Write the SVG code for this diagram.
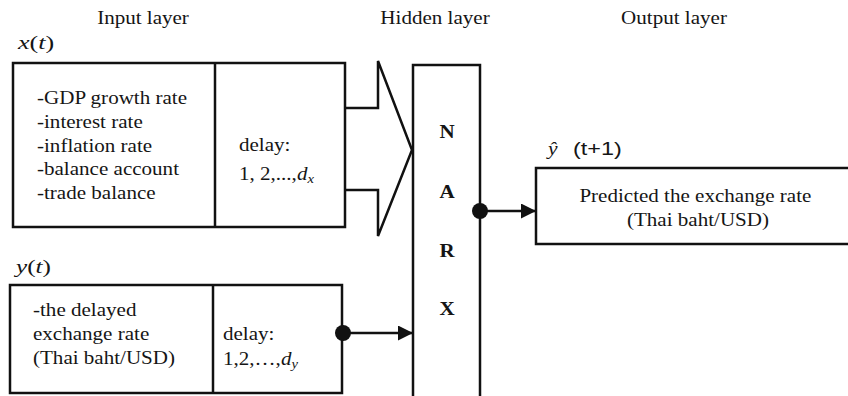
<svg xmlns="http://www.w3.org/2000/svg" width="848" height="396" viewBox="0 0 848 396">
  <style>
    .t { font-family: "Liberation Serif", "Times New Roman", serif; font-size: 18px; fill: #151515; }
    .m { font-family: "Liberation Serif", "Times New Roman", serif; font-size: 18px; fill: #151515; font-style: italic; }
    .up { font-style: normal; }
    .sub { font-size: 12.5px; }
    .b { font-weight: bold; }
    .sans { font-family: "Liberation Sans", Arial, sans-serif; font-size: 18px; fill: #151515; }
    .box { fill: #fff; stroke: #111; stroke-width: 2.5; }
    .ln { fill: none; stroke: #111; stroke-width: 2.5; }
  </style>
  <defs>
    <marker id="head" markerUnits="userSpaceOnUse" markerWidth="16" markerHeight="16" refX="15" refY="7.5" orient="auto">
      <path d="M0,0 L15,7.5 L0,15 z" fill="#111"/>
    </marker>
  </defs>
  <rect width="848" height="396" fill="#fff"/>

  <!-- column headings -->
  <g id="headings">
    <text class="t" text-anchor="middle" transform="translate(143 24) scale(1.17 1)">Input layer</text>
    <text class="t" text-anchor="middle" transform="translate(435 24) scale(1.17 1)">Hidden layer</text>
    <text class="t" text-anchor="middle" transform="translate(674 24) scale(1.17 1)">Output layer</text>
  </g>

  <!-- exogenous inputs x(t) -->
  <g id="input-x">
    <text class="m" transform="translate(18 49) scale(1.45 1)">x<tspan class="up">(</tspan>t<tspan class="up">)</tspan></text>
    <rect class="box" x="13" y="63" width="332" height="164"/>
    <line class="ln" x1="215" y1="63" x2="215" y2="227"/>
    <text class="t" transform="translate(37 104) scale(1.17 1)">
      <tspan x="0" dy="0">-GDP growth rate</tspan>
      <tspan x="0" dy="23.8">-interest rate</tspan>
      <tspan x="0" dy="23.8">-inflation rate</tspan>
      <tspan x="0" dy="23.8">-balance account</tspan>
      <tspan x="0" dy="23.8">-trade balance</tspan>
    </text>
    <text class="t" transform="translate(239 151) scale(1.17 1)">delay:</text>
    <text class="t" transform="translate(239 180) scale(1.17 1)">1, 2,...,<tspan class="m">d</tspan><tspan class="m sub" dy="3">x</tspan></text>
  </g>

  <!-- delayed target y(t) -->
  <g id="input-y">
    <text class="m" transform="translate(16 273) scale(1.4 1)">y<tspan class="up">(</tspan>t<tspan class="up">)</tspan></text>
    <rect class="box" x="10" y="285" width="332" height="108"/>
    <line class="ln" x1="213" y1="285" x2="213" y2="393"/>
    <text class="t" transform="translate(33 316) scale(1.17 1)">
      <tspan x="0" dy="0">-the delayed</tspan>
      <tspan x="0" dy="24">exchange rate</tspan>
      <tspan x="0" dy="24">(Thai baht/USD)</tspan>
    </text>
    <text class="t" transform="translate(223 340) scale(1.17 1)">delay:</text>
    <text class="t" transform="translate(223 365) scale(1.17 1)">1,2,…,<tspan class="m">d</tspan><tspan class="m sub" dy="3">y</tspan></text>
  </g>

  <!-- NARX hidden layer -->
  <g id="hidden">
    <rect class="box" x="413" y="65" width="67" height="345"/>
    <g class="t b" text-anchor="middle">
      <text transform="translate(447 138) scale(1.17 1)">N</text>
      <text transform="translate(447 197.5) scale(1.17 1)">A</text>
      <text transform="translate(447 256.5) scale(1.17 1)">R</text>
      <text transform="translate(447 315) scale(1.17 1)">X</text>
    </g>
  </g>

  <!-- prediction output -->
  <g id="output">
    <text class="m" transform="translate(548 155) scale(1.2 1)">ŷ</text>
    <text class="sans" transform="translate(573 155) scale(1.3 1)">(t+1)</text>
    <rect class="box" x="536" y="168" width="330" height="76"/>
    <text class="t" text-anchor="middle" transform="translate(698 202) scale(1.17 1)">
      <tspan x="0" dy="0">Predicted the exchange rate</tspan>
      <tspan x="0" dy="24">(Thai baht/USD)</tspan>
    </text>
  </g>

  <!-- connectors -->
  <g id="connectors">
    <path class="ln" d="M345,108 H378 V61 L412,150 L378,236 V190 H345"/>
    <line class="ln" x1="343" y1="333" x2="413" y2="333" marker-end="url(#head)"/>
    <circle cx="343" cy="333" r="8" fill="#111"/>
    <line class="ln" x1="480" y1="211" x2="536" y2="211" marker-end="url(#head)"/>
    <circle cx="480" cy="211" r="8" fill="#111"/>
  </g>
</svg>
